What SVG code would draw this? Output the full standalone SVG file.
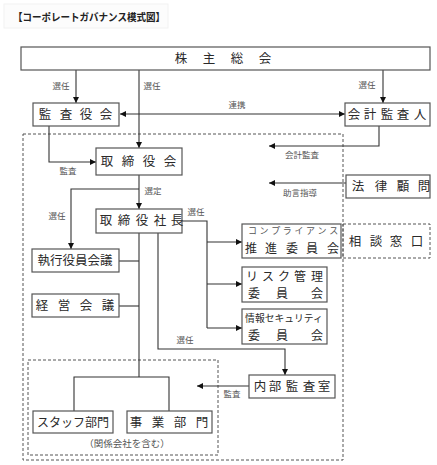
<svg xmlns="http://www.w3.org/2000/svg" width="437" height="465" viewBox="0 0 437 465">
<defs>
<marker id="ah" viewBox="0 0 10 10" refX="10" refY="5" markerWidth="6" markerHeight="6" markerUnits="userSpaceOnUse" orient="auto-start-reverse">
<path d="M0,0 L10,5 L0,10 z" fill="#111"/>
</marker>
<style>
.box{fill:#fff;stroke:#555;stroke-width:1.2}
.dash{fill:none;stroke:#555;stroke-width:1;stroke-dasharray:3 2}
.ln{fill:none;stroke:#333;stroke-width:1.1}
.ar{fill:none;stroke:#333;stroke-width:1.1;marker-end:url(#ah)}
.t{font-family:"Noto Sans CJK JP","Noto Sans",sans-serif;font-size:12.5px;fill:#2a2a2a;text-anchor:middle}
.t2{font-family:"Noto Sans CJK JP","Noto Sans",sans-serif;font-size:12px;fill:#2a2a2a;text-anchor:middle}
.s{font-family:"Noto Sans CJK JP","Noto Sans",sans-serif;font-size:9px;fill:#555;text-anchor:middle}
.lb{font-family:"Noto Sans CJK JP","Noto Sans",sans-serif;font-size:8.5px;fill:#555;text-anchor:middle}
</style>
</defs>
<rect x="4" y="4" width="164" height="24" fill="#fcfcfc" stroke="#f2f2f2"/>
<text x="13" y="21" font-family="'Noto Sans CJK JP',sans-serif" font-size="10.5" font-weight="bold" fill="#222" textLength="152" lengthAdjust="spacingAndGlyphs">【コーポレートガバナンス模式図】</text>

<rect class="dash" x="23" y="134" width="320" height="326"/>
<rect class="dash" x="28" y="360" width="190" height="95"/>

<g id="connectors">
<line class="ar" x1="76" y1="70" x2="76" y2="103"/>
<line class="ar" x1="139" y1="70" x2="139" y2="148"/>
<line class="ar" x1="383" y1="70" x2="383" y2="103"/>
<line class="ar" x1="120" y1="114" x2="345" y2="114" style="marker-start:url(#ah)"/>
<polyline class="ar" points="49,126 49,162 96,162"/>
<polyline class="ar" points="379,126 379,146 269,146"/>
<line class="ar" x1="346" y1="183" x2="269" y2="183"/>
<line class="ar" x1="139" y1="175" x2="139" y2="209"/>
<polyline class="ar" points="139,189 71,189 71,249"/>
<line class="ln" x1="139" y1="233" x2="139" y2="377"/>
<polyline class="ln" points="74,411 74,377 169,377 169,411"/>
<line class="ln" x1="119" y1="261" x2="139" y2="261"/>
<line class="ln" x1="119" y1="306" x2="139" y2="306"/>
<polyline class="ln" points="182,221 207,221 207,328"/>
<line class="ar" x1="207" y1="242" x2="242" y2="242"/>
<line class="ar" x1="207" y1="284" x2="242" y2="284"/>
<line class="ar" x1="207" y1="328" x2="242" y2="328"/>
<polyline class="ar" points="158,233 158,349 285,349 285,375"/>
<line class="ar" x1="249" y1="386" x2="197" y2="386"/>
</g>

<g id="labels">
<text class="lb" x="61" y="89">選任</text>
<text class="lb" x="152" y="89">選任</text>
<text class="lb" x="367" y="88">選任</text>
<text class="lb" x="237" y="108">連携</text>
<text class="lb" x="68" y="174">監査</text>
<text class="lb" x="302" y="158">会計監査</text>
<text class="lb" x="300" y="196">助言指導</text>
<text class="lb" x="153" y="194">選定</text>
<text class="lb" x="57" y="219">選任</text>
<text class="lb" x="196" y="215">選任</text>
<text class="lb" x="185" y="343">選任</text>
<text class="lb" x="232" y="397">監査</text>
</g>

<g id="shareholders">
<rect class="box" x="21" y="47" width="409" height="23"/>
<text class="t" x="181 209 237 265" y="63">株主総会</text>
</g>
<g id="kansayakukai">
<rect class="box" x="33" y="103" width="86" height="23"/>
<text class="t" x="45 66 86 106" y="119">監査役会</text>
</g>
<g id="kaikeikansanin">
<rect class="box" x="345" y="103" width="85" height="23"/>
<text class="t" x="354 370 387 403 420" y="119">会計監査人</text>
</g>
<g id="torishimariyakukai">
<rect class="box" x="96" y="148" width="86" height="27"/>
<text class="t" x="107 128 149 170" y="166">取締役会</text>
</g>
<g id="houritsukomon">
<rect class="box" x="346" y="175" width="84" height="23"/>
<text class="t" x="358 381 403 424" y="191">法律顧問</text>
</g>
<g id="shachou">
<rect class="box" x="96" y="209" width="86" height="24"/>
<text class="t" x="106 124 142 160 177" y="225">取締役社長</text>
</g>
<g id="shikkou">
<rect class="box" x="32" y="249" width="87" height="23"/>
<text class="t" x="75" y="265">執行役員会議</text>
</g>
<g id="keiei">
<rect class="box" x="32" y="294" width="87" height="23"/>
<text class="t" x="42 64 86 108" y="310">経営会議</text>
</g>
<g id="compliance">
<rect class="box" x="242" y="224" width="99" height="34"/>
<text class="s" x="252.5 264 275.7 287.3 298.9 310.5 322.1 333.7" y="234">コンプライアンス</text>
<text class="t2" x="251 271 292 312 333" y="253">推進委員会</text>
</g>
<g id="soudan">
<rect class="dash" x="343" y="224" width="87" height="34"/>
<text class="t" x="355 376 396 417" y="246">相談窓口</text>
</g>
<g id="risk">
<rect class="box" x="242" y="267" width="85" height="35"/>
<text class="t2" x="252 268 284 300 317" y="281">リスク管理</text>
<text class="t2" x="254 282 317" y="298">委員会</text>
</g>
<g id="security">
<rect class="box" x="242" y="309" width="85" height="35"/>
<text class="t2" x="284" y="322" style="font-size:9.8px">情報セキュリティ</text>
<text class="t2" x="254 282 317" y="340">委員会</text>
</g>
<g id="naibukansa">
<rect class="box" x="249" y="375" width="86" height="23"/>
<text class="t" x="260 275 292 309 324" y="391">内部監査室</text>
</g>
<g id="staff">
<rect class="box" x="33" y="411" width="80" height="22"/>
<text class="t" x="73" y="427" style="font-size:12px">スタッフ部門</text>
</g>
<g id="jigyou">
<rect class="box" x="127" y="411" width="85" height="22"/>
<text class="t" x="136 158 180 202" y="427">事業部門</text>
</g>
<text class="s" x="127" y="447" style="font-size:9.5px">（関係会社を含む）</text>
</svg>
